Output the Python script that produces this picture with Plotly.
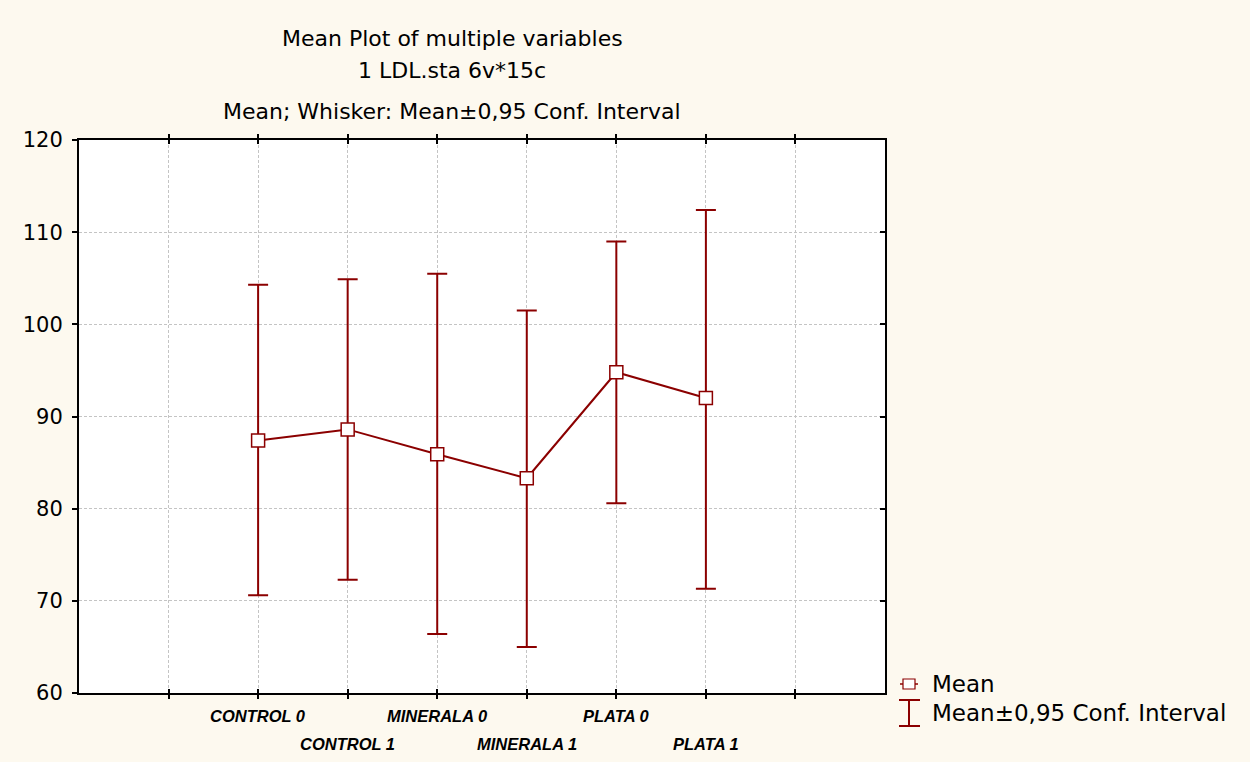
import plotly.graph_objects as go

categories = ["CONTROL 0", "CONTROL 1", "MINERALA 0", "MINERALA 1", "PLATA 0", "PLATA 1"]
means = [87.4, 88.6, 85.9, 83.3, 94.8, 92.0]
upper = [104.3, 104.9, 105.5, 101.5, 109.0, 112.4]
lower = [70.6, 72.3, 66.4, 65.0, 80.6, 71.3]
y_ticks = [60, 70, 80, 90, 100, 110, 120]

positions = [i + 2 for i in range(len(categories))]
err_plus = [u - m for u, m in zip(upper, means)]
err_minus = [m - l for m, l in zip(means, lower)]

DARK = "#8B0000"
FONT = "DejaVu Sans, Liberation Sans, Arial, sans-serif"
FONT_CAT = "Liberation Sans, Arial, sans-serif"
W, H = 1250, 762
L, R, T, B = 79, 885, 140, 693


def px(x):
    return (x - L) / (R - L)


def py(y):
    return (B - y) / (B - T)


fig = go.Figure()
fig.add_trace(go.Scatter(
    x=positions, y=means, mode="lines+markers",
    line=dict(color=DARK, width=2),
    marker=dict(symbol="square", size=13, color="white", line=dict(color=DARK, width=1.5)),
    error_y=dict(type="data", symmetric=False, array=err_plus, arrayminus=err_minus,
                 color=DARK, thickness=2, width=10),
    showlegend=False, hoverinfo="x+y",
))
# dummy trace for right-side inner ticks
fig.add_trace(go.Scatter(x=[positions[0]], y=[means[0]], yaxis="y2", mode="markers",
                         marker=dict(opacity=0), showlegend=False, hoverinfo="skip"))

annotations = []
titles = [("Mean Plot of multiple variables", 38),
          ("1 LDL.sta 6v*15c", 70),
          ("Mean; Whisker: Mean±0,95 Conf. Interval", 112)]
for text, yy in titles:
    annotations.append(dict(text=text, x=px(452), y=py(yy), xref="paper", yref="paper",
                            showarrow=False, xanchor="center", yanchor="middle",
                            font=dict(family=FONT, size=22, color="black")))

for i, (pos, cat) in enumerate(zip(positions, categories)):
    yy = 716 if i % 2 == 0 else 744
    annotations.append(dict(text="<b><i>" + cat + "</i></b>", x=pos, y=py(yy), xref="x", yref="paper",
                            showarrow=False, xanchor="center", yanchor="middle",
                            font=dict(family=FONT_CAT, size=16.5, color="black")))

# legend texts
annotations.append(dict(text="Mean", x=px(930), y=py(684), xref="paper", yref="paper",
                        showarrow=False, xanchor="left", yanchor="middle",
                        font=dict(family=FONT, size=23, color="black")))
annotations.append(dict(text="Mean±0,95 Conf. Interval", x=px(930), y=py(713), xref="paper", yref="paper",
                        showarrow=False, xanchor="left", yanchor="middle",
                        font=dict(family=FONT, size=23, color="black")))

shapes = [
    dict(type="line", xref="paper", yref="paper", x0=px(900), x1=px(918), y0=py(684), y1=py(684),
         line=dict(color=DARK, width=1.5)),
    dict(type="rect", xref="paper", yref="paper", x0=px(903), x1=px(915), y0=py(689), y1=py(679),
         line=dict(color=DARK, width=1.2), fillcolor="white"),
    dict(type="line", xref="paper", yref="paper", x0=px(909), x1=px(909), y0=py(700), y1=py(726),
         line=dict(color=DARK, width=2)),
    dict(type="line", xref="paper", yref="paper", x0=px(899), x1=px(920), y0=py(700), y1=py(700),
         line=dict(color=DARK, width=2)),
    dict(type="line", xref="paper", yref="paper", x0=px(899), x1=px(920), y0=py(726), y1=py(726),
         line=dict(color=DARK, width=2)),
]

fig.update_layout(
    width=W, height=H,
    margin=dict(l=L, r=W - R, t=T, b=H - B, pad=0),
    paper_bgcolor="#FDF9EF",
    plot_bgcolor="white",
    font=dict(family=FONT, size=21, color="black"),
    showlegend=False,
    annotations=annotations,
    shapes=shapes,
    xaxis=dict(range=[0, 9], tickvals=list(range(1, 9)), showticklabels=False,
               ticks="inside", ticklen=4, tickwidth=2, tickcolor="black",
               showgrid=True, gridcolor="#C4C4C4", griddash="3px,2px", gridwidth=1,
               showline=True, linecolor="black", linewidth=2, mirror="allticks",
               zeroline=False, fixedrange=True),
    yaxis=dict(range=[60, 120], tickvals=y_ticks, ticktext=[str(v) for v in y_ticks],
               ticks="outside", ticklen=5, tickwidth=2, tickcolor="black", ticklabelstandoff=5,
               showgrid=True, gridcolor="#C4C4C4", griddash="3px,2px", gridwidth=1,
               showline=True, linecolor="black", linewidth=2, mirror=True,
               zeroline=False, tickfont=dict(family=FONT, size=21, color="black")),
    yaxis2=dict(range=[60, 120], tickvals=y_ticks, overlaying="y", side="right",
                showticklabels=False, ticks="inside", ticklen=5, tickwidth=2, tickcolor="black",
                showgrid=False, zeroline=False, showline=False),
)

fig.write_html("out.html")
